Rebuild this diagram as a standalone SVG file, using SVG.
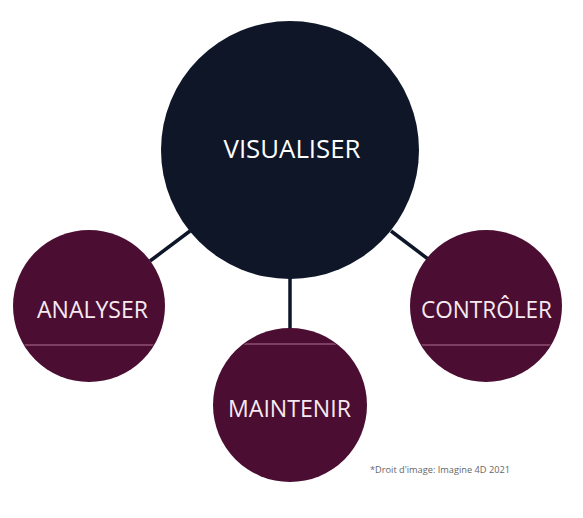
<svg xmlns="http://www.w3.org/2000/svg" width="583" height="518" viewBox="0 0 583 518">
<style>
.hub{fill:#0e1628}
.sat{fill:#4b0d32}
.seam{stroke:#c98fae;stroke-width:1;opacity:0.8}
.conn{stroke:#0e1628;stroke-width:3.5;fill:none}
.lbl{font-family:"Open Sans","Noto Sans",sans-serif;text-anchor:middle;fill:#f6eaf1;font-size:24px}
.hubl{font-family:"Open Sans","Noto Sans",sans-serif;text-anchor:middle;fill:#ffffff;font-size:26px}
.cap{font-family:"Open Sans","Noto Sans",sans-serif;font-size:9.5px;fill:#666}
</style>
<defs>
<clipPath id="cA"><circle cx="89" cy="306" r="75"/></clipPath>
<clipPath id="cC"><circle cx="486" cy="306" r="75"/></clipPath>
<clipPath id="cM"><circle cx="290" cy="405" r="76"/></clipPath>
</defs>
<rect width="583" height="518" fill="#ffffff"/>
<g id="connectors">
<line class="conn" x1="190" y1="231" x2="150" y2="261"/>
<line class="conn" x1="391" y1="231" x2="432" y2="262"/>
<line class="conn" x1="290" y1="276" x2="290" y2="332"/>
</g>
<g id="visualiser">
<circle class="hub" cx="290" cy="150" r="129"/>
<text class="hubl" x="292" y="158" textLength="137" lengthAdjust="spacingAndGlyphs">VISUALISER</text>
</g>
<g id="analyser">
<circle class="sat" cx="89" cy="306" r="76"/>
<line class="seam" x1="0" y1="345" x2="200" y2="345" clip-path="url(#cA)"/>
<text class="lbl" x="92.5" y="318" textLength="111" lengthAdjust="spacingAndGlyphs">ANALYSER</text>
</g>
<g id="controler">
<circle class="sat" cx="486" cy="306" r="76"/>
<line class="seam" x1="400" y1="345" x2="583" y2="345" clip-path="url(#cC)"/>
<text class="lbl" x="486.5" y="318" textLength="131" lengthAdjust="spacingAndGlyphs">CONTRÔLER</text>
</g>
<g id="maintenir">
<circle class="sat" cx="290" cy="405" r="77"/>
<line class="seam" x1="200" y1="344" x2="380" y2="344" clip-path="url(#cM)"/>
<text class="lbl" x="289.5" y="417" textLength="123" lengthAdjust="spacingAndGlyphs">MAINTENIR</text>
</g>
<text class="cap" x="370" y="473" textLength="140" lengthAdjust="spacingAndGlyphs">*Droit d'image: Imagine 4D 2021</text>
</svg>
